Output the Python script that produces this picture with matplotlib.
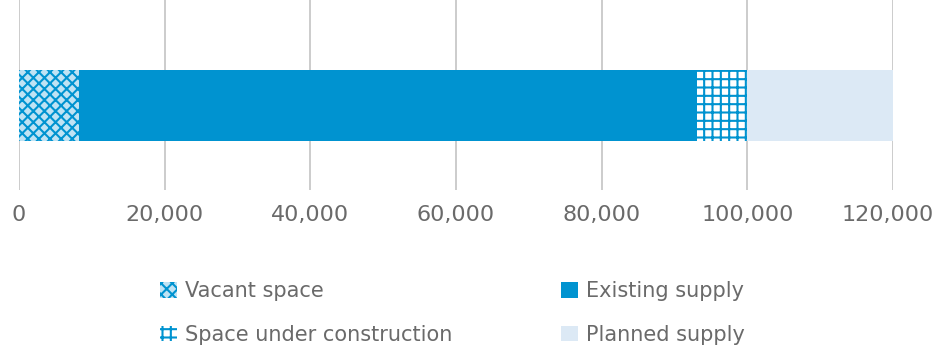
import numpy as np
import matplotlib.pyplot as plt
from matplotlib.patches import Patch
from matplotlib.transforms import ScaledTranslation

plt.rcParams['font.family'] = ['DejaVu Sans']
plt.rcParams['hatch.linewidth'] = 1.5

labels = ['Vacant space', 'Existing supply', 'Space under construction', 'Planned supply']
values = [8200, 84900, 6900, 20000]
ticks = [0, 20000, 40000, 60000, 80000, 100000, 120000]

blue = '#0093d0'
light = '#dce9f5'
grey = '#6a6a6a'

fig = plt.figure(figsize=(9.37, 3.49), dpi=100)
ax = fig.add_axes([0.0203, 0.456, 0.9327, 0.544])

left = 0
styles = [
    dict(facecolor='#bfe3f4', edgecolor=blue, hatch='xxx'),
    dict(facecolor=blue, edgecolor=blue),
    dict(facecolor='white', edgecolor=blue, hatch='++'),
    dict(facecolor=light, edgecolor=light),
]
for v, st in zip(values, styles):
    ax.barh(0.445, v, left=left, height=0.374, linewidth=0, zorder=3, **st)
    left += v

ax.set_xlim(0, 120000)
ax.set_ylim(0, 1)
ax.set_xticks(ticks)
ax.set_xticklabels(['{:,}'.format(t) for t in ticks], color=grey, fontsize=16)
ax.tick_params(axis='x', length=0, pad=11)
ax.set_yticks([])
ax.grid(axis='x', color='#c4c4c4', linewidth=1.2)
for s in ax.spines.values():
    s.set_visible(False)
last = ax.get_xticklabels()[-1]
last.set_transform(last.get_transform() + ScaledTranslation(-0.05, 0, fig.dpi_scale_trans))

handles = [Patch(**styles[0], linewidth=0),
           Patch(**styles[2], linewidth=0),
           Patch(**styles[1], linewidth=0),
           Patch(**styles[3], linewidth=0)]
names = [labels[0], labels[2], labels[1], labels[3]]
leg = fig.legend(handles, names, ncol=2, loc='upper left',
                 bbox_to_anchor=(0.151, 0.248), frameon=False,
                 fontsize=15, handlelength=0.8, handleheight=0.8,
                 handletextpad=0.4, columnspacing=5.2, labelspacing=1.13)
for t in leg.get_texts():
    t.set_color(grey)

fig.savefig('out.png', dpi=100)
